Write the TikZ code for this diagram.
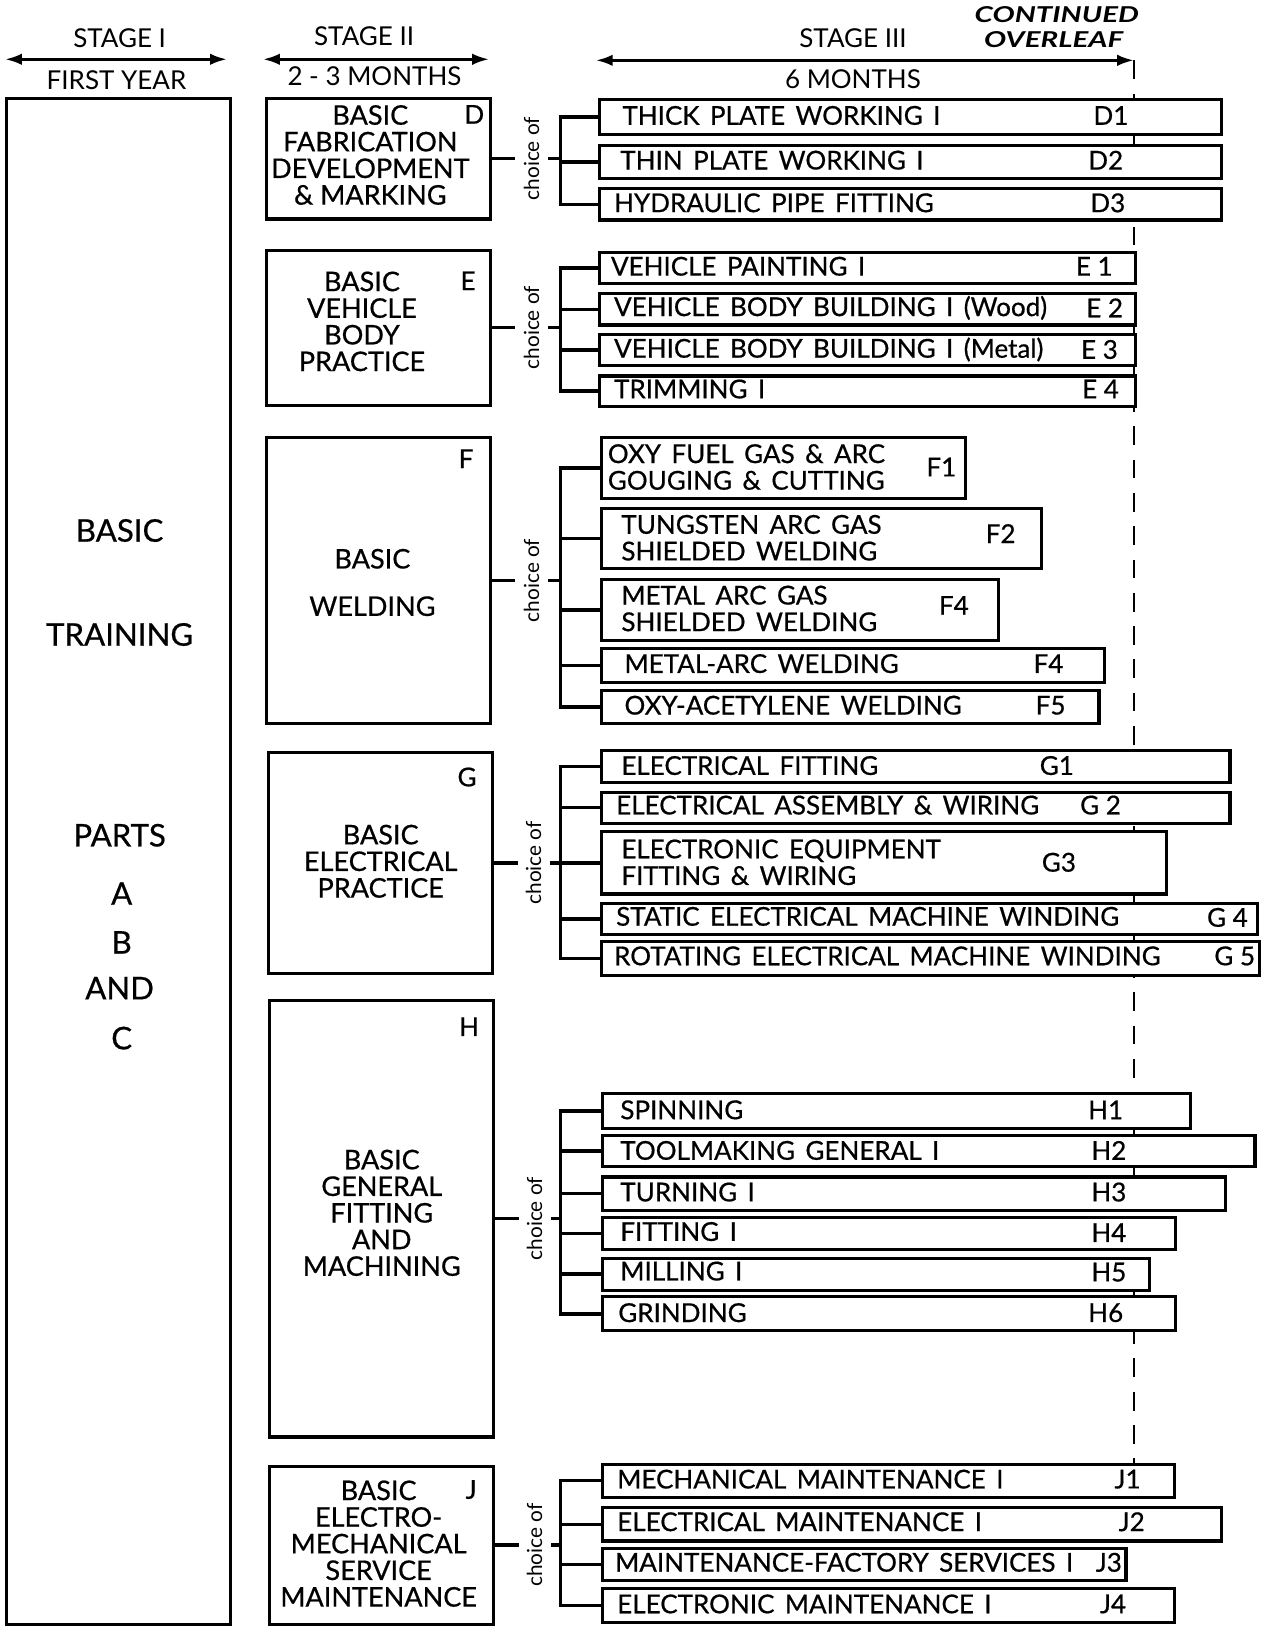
\documentclass[tikz,border=0pt]{standalone}
\usepackage{fontspec}
\setmainfont{Lato}
\newfontfamily\heavyfont[FakeBold=0.6]{Lato}
\usetikzlibrary{arrows.meta}
\newcommand\widesp{\spaceskip=0.4em plus 0.1em\relax}
\newcommand\mkbox[6][obox]{%
  \pgfmathsetmacro\bw{(#5-#3)/2}%
  \pgfmathsetmacro\bh{(#6-#4)/2}%
  \node[#1, minimum width=\bw pt, minimum height=\bh pt, anchor=north west] (#2) at (#3,#4) {};}
\begin{document}
\begin{tikzpicture}[x=0.5pt,y=-0.5pt,
  obox/.style={draw, line width=1.5pt, fill=white, inner sep=0pt, rectangle},
  conn/.style={line width=1.7pt, line cap=rect},
  ttxt/.style={font={\heavyfont\fontsize{12.5}{12.8}\selectfont}, execute at begin node=\widesp, inner sep=0pt, anchor=west},
  ctxt/.style={font=\heavyfont\fontsize{12.5}{12.8}\selectfont, inner sep=0pt},
  mtxt/.style={font=\heavyfont\fontsize{13}{12.8}\selectfont, inner sep=0pt, align=center},
  btxt/.style={font=\heavyfont\fontsize{15}{16}\selectfont, inner sep=0pt},
  htxt/.style={font=\fontsize{12.5}{14}\selectfont, inner sep=0pt},
  choice/.style={font=\fontsize{10}{11}\selectfont, rotate=90, fill=white, inner xsep=1pt, inner ysep=4pt},
  stagearrow/.style={line width=1.3pt, {Latex[length=8pt,width=5.5pt]}-{Latex[length=8pt,width=5.5pt]}},
  cont/.style={font=\fontsize{10.5}{11}\selectfont\bfseries\itshape, xscale=1.35, inner sep=0pt}]
\useasboundingbox (0,0) rectangle (1215,1568);
\fill[white] (0,0) rectangle (1215,1568);

% ---- headers
\coordinate (s1l) at (5,57); \coordinate (s1r) at (218,57);
\coordinate (s2l) at (253,57); \coordinate (s2r) at (470,57);
\coordinate (s3l) at (573,58); \coordinate (s3r) at (1090,58);
\coordinate (dashend) at (1090,1410);
\coordinate (busx) at (539,0);
\draw[line width=1.1pt, dash pattern=on 9pt off 7pt] (s3r) -- (dashend);
\draw[stagearrow] (s1l) -- (s1r);
\draw[stagearrow] (s2l) -- (s2r);
\draw[stagearrow] (s3l) -- (s3r);
\node[htxt] (h1a) at (115,37) {STAGE I};
\node[htxt] (h1b) at (112,77) {FIRST YEAR};
\node[htxt] (h2a) at (350,35) {STAGE II};
\node[htxt] (h2b) at (360,73) {2 - 3 MONTHS};
\node[htxt] (h3a) at (820,37) {STAGE III};
\node[htxt] (h3b) at (820,76) {6 MONTHS};
\node[cont] (co1) at (1016,14) {CONTINUED};
\node[cont] (co2) at (1013,38) {OVERLEAF};

% ---- stage I
\mkbox{A}{5}{93}{220}{1560}
\node[btxt] (a1) at (115,510) {BASIC};
\node[btxt] (a2) at (115,610) {TRAINING};
\node[btxt] (a3) at (115,803) {PARTS};
\node[btxt] (a4) at (117,859) {A};
\node[btxt] (a5) at (117,906) {B};
\node[btxt] (a6) at (115,950) {AND};
\node[btxt] (a7) at (117,998) {C};

% ---- stage II boxes
\mkbox{D}{255}{93}{470}{209}
\node[mtxt] (Dt) at (356,149) {BASIC\\FABRICATION\\DEVELOPMENT\\\& MARKING};
\node[ctxt] (Dl) at (456,110) {D};
\mkbox{E}{255}{239}{470}{388}
\node[mtxt] (Et) at (348,309) {BASIC\\VEHICLE\\BODY\\PRACTICE};
\node[ctxt] (El) at (450,270) {E};
\mkbox{F}{255}{419}{470}{694}
\node[mtxt] (Ft) at (358,560) {BASIC\\[10pt]WELDING};
\node[ctxt] (Fl) at (448,441) {F};
\mkbox{G}{257}{722}{472}{934}
\node[mtxt] (Gt) at (366,828) {BASIC\\ELECTRICAL\\PRACTICE};
\node[ctxt] (Gl) at (449,747) {G};
\mkbox{H}{258}{960}{473}{1380}
\node[mtxt] (Ht) at (367,1166) {BASIC\\GENERAL\\FITTING\\AND\\MACHINING};
\node[ctxt] (Hl) at (451,987) {H};
\mkbox{J}{258}{1408}{473}{1560}
\node[mtxt] (Jt) at (364,1484) {BASIC\\ELECTRO-\\MECHANICAL\\SERVICE\\MAINTENANCE};
\node[ctxt] (Jl) at (453,1432) {J};

% ---- choice labels
\foreach \g in {D,E,F,G,H,J}{
  \draw[conn] (\g.east) -- (busx |- \g.east);
  \node[choice] (c\g) at ([xshift=19pt]\g.east) {choice of};
}

% ---- D options
\mkbox{D1}{575}{94}{1173}{128}
\mkbox{D2}{575}{138}{1173}{170}
\mkbox{D3}{575}{180}{1173}{210}
\node[ttxt] (D1t) at (598,111) {THICK PLATE WORKING I};
\node[ctxt] (D1c) at (1068,111) {D1};
\node[ttxt] (D2t) at (596,154) {THIN PLATE WORKING I};
\node[ctxt] (D2c) at (1063,154) {D2};
\node[ttxt] (D3t) at (590,195) {HYDRAULIC PIPE FITTING};
\node[ctxt] (D3c) at (1065,195) {D3};
\draw[conn] (D1.west) -- (busx |- D1.west) -- (busx |- D3.west) -- (D3.west);
\draw[conn] (D2.west) -- (busx |- D2.west);

% ---- E options
\mkbox{E1}{575}{241}{1090}{271}
\mkbox{E2}{575}{281}{1090}{311}
\mkbox{E3}{575}{320}{1090}{350}
\mkbox{E4}{575}{360}{1090}{389}
\node[ttxt] (E1t) at (587,256) {VEHICLE PAINTING I};
\node[ctxt] (E1c) at (1052,256) {E 1};
\node[ttxt] (E2t) at (590,296) {VEHICLE BODY BUILDING I (Wood)};
\node[ctxt] (E2c) at (1062,296) {E 2};
\node[ttxt] (E3t) at (590,336) {VEHICLE BODY BUILDING I (Metal)};
\node[ctxt] (E3c) at (1057,336) {E 3};
\node[ttxt] (E4t) at (590,374) {TRIMMING I};
\node[ctxt] (E4c) at (1058,374) {E 4};
\draw[conn] (E1.west) -- (busx |- E1.west) -- (busx |- E4.west) -- (E4.west);
\draw[conn] (E2.west) -- (busx |- E2.west);
\draw[conn] (E3.west) -- (busx |- E3.west);

% ---- F options
\mkbox{F1}{577}{419}{927}{478}
\mkbox{F2}{577}{487}{1000}{545}
\mkbox{F3}{577}{556}{958}{614}
\mkbox{F4}{577}{622}{1060}{655}
\mkbox{F5}{577}{662}{1055}{694}
\node[ttxt, align=left] (F1t) at (584,449) {OXY FUEL GAS \& ARC\\GOUGING \& CUTTING};
\node[ctxt] (F1c) at (905,449) {F1};
\node[ttxt, align=left] (F2t) at (597,517) {TUNGSTEN ARC GAS\\SHIELDED WELDING};
\node[ctxt] (F2c) at (962,513) {F2};
\node[ttxt, align=left] (F3t) at (597,585) {METAL ARC GAS\\SHIELDED WELDING};
\node[ctxt] (F3c) at (917,582) {F4};
\node[ttxt] (F4t) at (600,638) {METAL-ARC WELDING};
\node[ctxt] (F4c) at (1008,638) {F4};
\node[ttxt] (F5t) at (600,678) {OXY-ACETYLENE WELDING};
\node[ctxt] (F5c) at (1010,678) {F5};
\draw[conn] (F1.west) -- (busx |- F1.west) -- (busx |- F5.west) -- (F5.west);
\draw[conn] (F2.west) -- (busx |- F2.west);
\draw[conn] (F3.west) -- (busx |- F3.west);
\draw[conn] (F4.west) -- (busx |- F4.west);

% ---- G options
\mkbox{G1}{577}{720}{1181}{751}
\mkbox{G2}{577}{760}{1181}{790}
\mkbox{G3}{577}{798}{1120}{858}
\mkbox{G4}{577}{867}{1207}{897}
\mkbox{G5}{577}{904}{1209}{936}
\node[ttxt] (G1t) at (597,736) {ELECTRICAL FITTING};
\node[ctxt] (G1c) at (1016,736) {G1};
\node[ttxt] (G2t) at (592,774) {ELECTRICAL ASSEMBLY \& WIRING};
\node[ctxt] (G2c) at (1058,774) {G 2};
\node[ttxt, align=left] (G3t) at (597,829) {ELECTRONIC EQUIPMENT\\FITTING \& WIRING};
\node[ctxt] (G3c) at (1018,829) {G3};
\node[ttxt] (G4t) at (592,881) {STATIC ELECTRICAL MACHINE WINDING};
\node[ctxt] (G4c) at (1180,882) {G 4};
\node[ttxt] (G5t) at (590,919) {ROTATING ELECTRICAL MACHINE WINDING};
\node[ctxt] (G5c) at (1187,919) {G 5};
\draw[conn] (G1.west) -- (busx |- G1.west) -- (busx |- G5.west) -- (G5.west);
\draw[conn] (G2.west) -- (busx |- G2.west);
\draw[conn] (G3.west) -- (busx |- G3.west);
\draw[conn] (G4.west) -- (busx |- G4.west);

% ---- H options
\mkbox{H1}{578}{1050}{1143}{1083}
\mkbox{H2}{578}{1090}{1205}{1120}
\mkbox{H3}{578}{1130}{1177}{1162}
\mkbox{H4}{578}{1169}{1129}{1200}
\mkbox{H5}{578}{1208}{1104}{1239}
\mkbox{H6}{578}{1245}{1129}{1278}
\node[ttxt] (H1t) at (596,1067) {SPINNING};
\node[ctxt] (H1c) at (1063,1067) {H1};
\node[ttxt] (H2t) at (596,1106) {TOOLMAKING GENERAL I};
\node[ctxt] (H2c) at (1066,1106) {H2};
\node[ttxt] (H3t) at (596,1146) {TURNING I};
\node[ctxt] (H3c) at (1066,1146) {H3};
\node[ttxt] (H4t) at (596,1184) {FITTING I};
\node[ctxt] (H4c) at (1066,1185) {H4};
\node[ttxt] (H5t) at (596,1222) {MILLING I};
\node[ctxt] (H5c) at (1066,1223) {H5};
\node[ttxt] (H6t) at (594,1262) {GRINDING};
\node[ctxt] (H6c) at (1063,1262) {H6};
\draw[conn] (H1.west) -- (busx |- H1.west) -- (busx |- H6.west) -- (H6.west);
\draw[conn] (H2.west) -- (busx |- H2.west);
\draw[conn] (H3.west) -- (busx |- H3.west);
\draw[conn] (H4.west) -- (busx |- H4.west);
\draw[conn] (H5.west) -- (busx |- H5.west);

% ---- J options
\mkbox{J1}{578}{1406}{1128}{1438}
\mkbox{J2}{578}{1448}{1173}{1480}
\mkbox{J3}{578}{1487}{1081}{1518}
\mkbox{J4}{578}{1526}{1128}{1558}
\node[ttxt] (J1t) at (593,1422) {MECHANICAL MAINTENANCE I};
\node[ctxt] (J1c) at (1084,1422) {J1};
\node[ttxt] (J2t) at (593,1463) {ELECTRICAL MAINTENANCE I};
\node[ctxt] (J2c) at (1088,1463) {J2};
\node[ttxt] (J3t) at (591,1502) {MAINTENANCE-FACTORY SERVICES I};
\node[ctxt] (J3c) at (1066,1502) {J3};
\node[ttxt] (J4t) at (593,1542) {ELECTRONIC MAINTENANCE I};
\node[ctxt] (J4c) at (1070,1542) {J4};
\draw[conn] (J1.west) -- (busx |- J1.west) -- (busx |- J4.west) -- (J4.west);
\draw[conn] (J2.west) -- (busx |- J2.west);
\draw[conn] (J3.west) -- (busx |- J3.west);
\end{tikzpicture}
\end{document}
